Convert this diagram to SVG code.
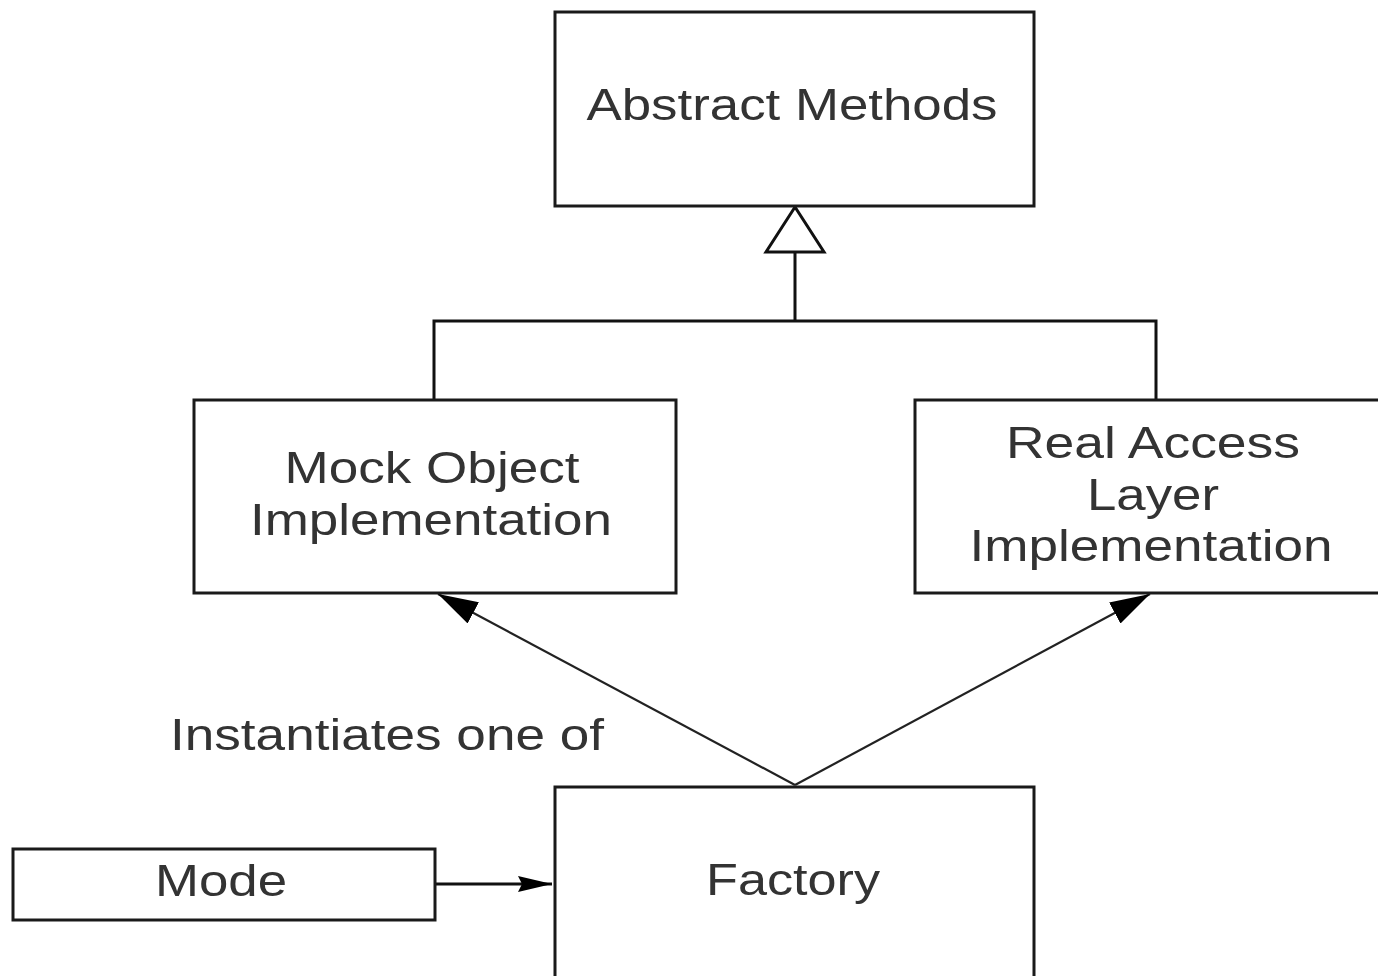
<svg xmlns="http://www.w3.org/2000/svg" width="1378" height="976" viewBox="0 0 1378 976">
<defs>
<style>
.box{fill:#fff;stroke:#1a1a1a;stroke-width:3}
.t{font-family:"Liberation Sans",Arial,sans-serif;font-size:45px;fill:#333;text-anchor:middle}
.ln{stroke:#111;stroke-width:3;fill:none}
.dl{stroke:#222;stroke-width:2.2;fill:none}
</style>
<marker id="fill" viewBox="0 0 34 16" refX="34" refY="8" markerWidth="34" markerHeight="16" markerUnits="userSpaceOnUse" orient="auto">
<path d="M0,0 L34,8 L0,16 L4,8 Z" fill="#000"/>
</marker>
<marker id="big" viewBox="0 0 40 24" refX="40" refY="12" markerWidth="40" markerHeight="24" markerUnits="userSpaceOnUse" orient="auto">
<path d="M0,0 L40,12 L0,24 Z" fill="#000"/>
</marker>
</defs>
<rect width="1378" height="976" fill="#fff"/>
<g id="connectors">
<polygon points="795,207 766,252 824,252" fill="#fff" stroke="#111" stroke-width="3"/>
<path class="ln" d="M795,252 V321 M432.5,321 H1157.5 M434,321 V400 M1156,321 V400"/>
<path class="dl" d="M795,785 L438,594" marker-end="url(#big)"/>
<path class="dl" d="M795,785 L1150,594" marker-end="url(#big)"/>
<path class="ln" d="M435,884 H552" marker-end="url(#fill)"/>
</g>
<g id="abstract">
<rect class="box" x="555" y="12" width="479" height="194"/>
<text class="t" x="792" y="120" textLength="411" lengthAdjust="spacingAndGlyphs">Abstract Methods</text>
</g>
<g id="mock">
<rect class="box" x="194" y="400" width="482" height="193"/>
<text class="t" x="432" y="483" textLength="295" lengthAdjust="spacingAndGlyphs">Mock Object</text>
<text class="t" x="431" y="535" textLength="362" lengthAdjust="spacingAndGlyphs">Implementation</text>
</g>
<g id="real">
<rect class="box" x="915" y="400" width="470" height="193"/>
<text class="t" x="1153" y="458" textLength="294" lengthAdjust="spacingAndGlyphs">Real Access</text>
<text class="t" x="1153" y="510" textLength="132" lengthAdjust="spacingAndGlyphs">Layer</text>
<text class="t" x="1151" y="561" textLength="363" lengthAdjust="spacingAndGlyphs">Implementation</text>
</g>
<g id="mode">
<rect class="box" x="13" y="849" width="422" height="71"/>
<text class="t" x="221" y="896" textLength="132" lengthAdjust="spacingAndGlyphs">Mode</text>
</g>
<g id="factory">
<path class="box" d="M555,990 V787 H1034 V990"/>
<text class="t" x="793" y="895" textLength="174" lengthAdjust="spacingAndGlyphs">Factory</text>
</g>
<g id="label">
<text class="t" x="387" y="750" textLength="434" lengthAdjust="spacingAndGlyphs">Instantiates one of</text>
</g>
</svg>
